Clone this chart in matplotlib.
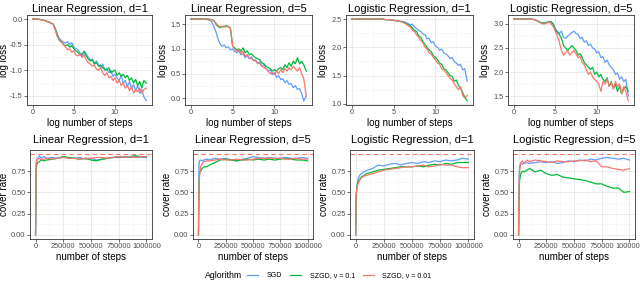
import numpy as np
import matplotlib.pyplot as plt
from matplotlib.ticker import AutoMinorLocator, FixedLocator
from matplotlib.lines import Line2D

plt.rcParams['font.family'] = ['Liberation Sans', 'DejaVu Sans']
plt.rcParams['axes.unicode_minus'] = False

# -----------------------------
# DATA
# -----------------------------
x_log = [0, 0.5, 1.0, 1.5, 2.0, 2.5, 2.75, 3.0, 3.25, 3.5, 3.75, 4.0, 4.25, 4.5, 4.75,
         5.0, 5.25, 5.5, 5.75, 6.0, 6.25, 6.5, 6.75, 7.0, 7.25, 7.5, 7.75, 8.0, 8.25,
         8.5, 8.75, 9.0, 9.25, 9.5, 9.75, 10.0, 10.25, 10.5, 10.75, 11.0, 11.25, 11.5,
         11.75, 12.0, 12.25, 12.5, 12.75, 13.0, 13.25, 13.5, 13.8]

# Linear Regression, d=1 (log loss)
lin1_sgd = [0, 0, -0.01, -0.03, -0.06, -0.1, -0.18, -0.3, -0.38, -0.42, -0.45, -0.47, -0.44,
            -0.5, -0.46, -0.55, -0.58, -0.6, -0.66, -0.72, -0.62, -0.68, -0.75, -0.8, -0.78,
            -0.86, -0.82, -0.9, -0.95, -0.88, -1.0, -0.97, -1.05, -1.0, -1.12, -1.08, -1.15,
            -1.2, -1.1, -1.25, -1.2, -1.32, -1.22, -1.35, -1.28, -1.4, -1.3, -1.45, -1.38,
            -1.52, -1.6]
lin1_szgd1 = [0, 0, -0.01, -0.03, -0.06, -0.1, -0.2, -0.32, -0.42, -0.45, -0.5, -0.52, -0.5,
              -0.55, -0.52, -0.58, -0.62, -0.65, -0.7, -0.68, -0.64, -0.72, -0.78, -0.82, -0.8,
              -0.88, -0.85, -0.92, -0.9, -0.95, -0.98, -1.0, -0.95, -1.05, -1.02, -1.0, -1.1,
              -1.05, -1.12, -1.08, -1.15, -1.1, -1.2, -1.15, -1.25, -1.18, -1.3, -1.22, -1.35,
              -1.2, -1.25]
lin1_szgd01 = [0, 0, -0.01, -0.03, -0.06, -0.1, -0.22, -0.35, -0.4, -0.44, -0.5, -0.55, -0.6,
               -0.58, -0.65, -0.62, -0.7, -0.72, -0.68, -0.75, -0.7, -0.8, -0.85, -0.88, -0.92,
               -0.9, -0.98, -1.0, -0.95, -1.05, -1.1, -1.05, -1.15, -1.12, -1.2, -1.15, -1.25,
               -1.2, -1.3, -1.25, -1.35, -1.3, -1.4, -1.32, -1.45, -1.38, -1.42, -1.35, -1.45,
               -1.38, -1.35]

# Linear Regression, d=5
lin5_sgd = [1.6, 1.6, 1.6, 1.6, 1.59, 1.55, 1.45, 1.35, 1.2, 1.1, 1.05, 1.08, 1.02, 1.04, 0.98,
            1.0, 0.95, 0.92, 0.96, 0.88, 0.9, 0.82, 0.86, 0.8, 0.84, 0.76, 0.78, 0.7, 0.74,
            0.65, 0.68, 0.6, 0.55, 0.58, 0.48, 0.52, 0.42, 0.46, 0.38, 0.4, 0.32, 0.36, 0.28,
            0.3, 0.22, 0.26, 0.18, 0.2, 0.1, -0.05, 0.05]
lin5_szgd1 = [1.6, 1.6, 1.6, 1.6, 1.6, 1.59, 1.57, 1.5, 1.45, 1.43, 1.45, 1.44, 1.47, 1.45, 1.4,
              1.05, 1.02, 0.98, 1.0, 0.95, 1.02, 0.92, 0.96, 0.88, 0.9, 0.85, 0.82, 0.8, 0.78,
              0.72, 0.7, 0.65, 0.62, 0.6, 0.55, 0.58, 0.55, 0.6, 0.62, 0.58, 0.68, 0.62, 0.72,
              0.65, 0.75, 0.7, 0.82, 0.7, 0.75, 0.68, 0.55]
lin5_szgd01 = [1.6, 1.6, 1.6, 1.6, 1.6, 1.59, 1.57, 1.52, 1.47, 1.45, 1.45, 1.46, 1.44, 1.45,
               1.42, 1.05, 1.0, 0.95, 0.98, 0.9, 0.95, 0.85, 0.88, 0.82, 0.8, 0.78, 0.75, 0.72,
               0.7, 0.65, 0.62, 0.6, 0.55, 0.5, 0.52, 0.48, 0.55, 0.5, 0.58, 0.52, 0.6, 0.55,
               0.62, 0.58, 0.65, 0.6, 0.55, 0.62, 0.5, 0.4, 0.05]

# Logistic Regression, d=1
log1_sgd = [2.5, 2.5, 2.5, 2.5, 2.5, 2.5, 2.5, 2.5, 2.5, 2.5, 2.5, 2.49, 2.49, 2.49, 2.48, 2.48,
            2.47, 2.47, 2.46, 2.46, 2.45, 2.44, 2.42, 2.4, 2.41, 2.36, 2.33, 2.3, 2.28, 2.24,
            2.22, 2.15, 2.16, 2.08, 2.1, 2.02, 2.0, 1.95, 1.97, 1.9, 1.88, 1.85, 1.8, 1.82,
            1.75, 1.72, 1.68, 1.7, 1.6, 1.62, 1.4]
log1_szgd1 = [2.5, 2.5, 2.5, 2.5, 2.5, 2.5, 2.5, 2.5, 2.5, 2.5, 2.5, 2.49, 2.49, 2.49, 2.48,
              2.48, 2.47, 2.47, 2.46, 2.45, 2.44, 2.42, 2.4, 2.38, 2.34, 2.3, 2.28, 2.2, 2.18,
              2.1, 2.05, 2.0, 1.95, 1.92, 1.85, 1.82, 1.78, 1.72, 1.7, 1.62, 1.6, 1.55, 1.5,
              1.48, 1.4, 1.42, 1.32, 1.28, 1.2, 1.12, 1.05]
log1_szgd01 = [2.5, 2.5, 2.5, 2.5, 2.5, 2.5, 2.5, 2.5, 2.5, 2.5, 2.5, 2.49, 2.49, 2.49, 2.48,
               2.48, 2.47, 2.47, 2.46, 2.45, 2.43, 2.41, 2.38, 2.36, 2.3, 2.28, 2.22, 2.18,
               2.12, 2.08, 2.0, 1.97, 1.9, 1.88, 1.82, 1.78, 1.72, 1.7, 1.62, 1.6, 1.55, 1.5,
               1.45, 1.42, 1.35, 1.3, 1.25, 1.3, 1.15, 1.1, 1.15]

# Logistic Regression, d=5
log5_sgd = [3.1, 3.1, 3.1, 3.1, 3.1, 3.09, 3.07, 3.05, 3.03, 3.02, 3.02, 3.03, 3.05, 3.04, 3.0,
            2.9, 2.85, 2.8, 2.85, 2.72, 2.7, 2.75, 2.78, 2.82, 2.85, 2.8, 2.78, 2.7, 2.72, 2.62,
            2.65, 2.55, 2.58, 2.5, 2.48, 2.4, 2.42, 2.3, 2.32, 2.2, 2.25, 2.15, 2.1, 2.05, 1.95,
            1.98, 1.85, 1.9, 1.8, 1.85, 1.5]
log5_szgd1 = [3.1, 3.1, 3.1, 3.1, 3.1, 3.09, 3.07, 3.05, 3.03, 3.02, 3.02, 3.03, 3.05, 3.04,
              3.0, 2.88, 2.82, 2.78, 2.7, 2.55, 2.5, 2.45, 2.5, 2.55, 2.5, 2.45, 2.35, 2.38,
              2.3, 2.2, 2.15, 2.1, 2.05, 2.1, 1.95, 2.0, 1.9, 1.95, 1.85, 1.8, 1.88, 1.7, 1.8,
              1.65, 1.75, 1.6, 1.7, 1.55, 1.65, 1.7, 1.6]
log5_szgd01 = [3.1, 3.1, 3.1, 3.1, 3.1, 3.09, 3.07, 3.05, 3.02, 3.0, 3.0, 3.02, 3.04, 3.0, 2.95,
               2.85, 2.75, 2.62, 2.45, 2.35, 2.4, 2.45, 2.35, 2.4, 2.45, 2.38, 2.3, 2.32, 2.2,
               2.15, 2.05, 1.95, 2.0, 1.9, 1.85, 1.8, 1.75, 1.6, 1.8, 1.75, 1.85, 1.7, 1.78,
               1.65, 1.8, 1.7, 1.75, 1.55, 1.7, 1.6, 1.4]

x_steps = [0, 5000, 10000, 20000, 35000, 50000, 75000, 100000, 150000, 200000, 250000,
           300000, 350000, 400000, 450000, 500000, 550000, 600000, 650000, 700000, 750000,
           800000, 850000, 900000, 950000, 1000000]

# cover rates
cov_lin1_sgd = [0, 0.8, 0.86, 0.9, 0.93, 0.9, 0.92, 0.9, 0.91, 0.9, 0.92, 0.9, 0.9, 0.91, 0.89,
                0.9, 0.88, 0.89, 0.9, 0.91, 0.91, 0.92, 0.91, 0.92, 0.91, 0.91]
cov_lin1_szgd1 = [0, 0.75, 0.82, 0.85, 0.86, 0.88, 0.87, 0.88, 0.89, 0.9, 0.92, 0.91, 0.9, 0.89,
                  0.9, 0.88, 0.87, 0.89, 0.9, 0.91, 0.92, 0.91, 0.92, 0.93, 0.92, 0.92]
cov_lin1_szgd01 = [0, 0.85, 0.88, 0.89, 0.9, 0.88, 0.89, 0.9, 0.89, 0.9, 0.91, 0.9, 0.9, 0.89,
                   0.9, 0.9, 0.91, 0.91, 0.9, 0.91, 0.92, 0.91, 0.92, 0.91, 0.92, 0.92]

cov_lin5_sgd = [0, 0.82, 0.87, 0.88, 0.87, 0.88, 0.89, 0.88, 0.9, 0.89, 0.9, 0.88, 0.87, 0.89,
                0.9, 0.92, 0.91, 0.9, 0.91, 0.9, 0.9, 0.91, 0.9, 0.9, 0.91, 0.9]
cov_lin5_szgd1 = [0, 0.6, 0.72, 0.75, 0.78, 0.8, 0.8, 0.82, 0.85, 0.88, 0.89, 0.88, 0.87, 0.88,
                  0.89, 0.88, 0.89, 0.88, 0.89, 0.88, 0.89, 0.9, 0.89, 0.88, 0.88, 0.87]
cov_lin5_szgd01 = [0, 0.55, 0.7, 0.8, 0.84, 0.86, 0.87, 0.87, 0.88, 0.89, 0.88, 0.88, 0.89, 0.88,
                   0.88, 0.89, 0.9, 0.9, 0.9, 0.9, 0.9, 0.89, 0.89, 0.9, 0.89, 0.89]

cov_log1_sgd = [0, 0.45, 0.55, 0.65, 0.7, 0.72, 0.74, 0.76, 0.78, 0.82, 0.81, 0.83, 0.84, 0.82,
                0.84, 0.85, 0.84, 0.86, 0.85, 0.87, 0.86, 0.88, 0.87, 0.88, 0.9, 0.89]
cov_log1_szgd1 = [0, 0.45, 0.55, 0.62, 0.65, 0.68, 0.7, 0.72, 0.74, 0.76, 0.77, 0.78, 0.79, 0.8,
                  0.8, 0.8, 0.81, 0.8, 0.82, 0.83, 0.82, 0.84, 0.83, 0.85, 0.85, 0.85]
cov_log1_szgd01 = [0, 0.48, 0.55, 0.6, 0.64, 0.67, 0.69, 0.7, 0.72, 0.74, 0.76, 0.77, 0.78, 0.79,
                   0.8, 0.8, 0.81, 0.82, 0.8, 0.81, 0.83, 0.82, 0.82, 0.8, 0.79, 0.79]

cov_log5_sgd = [0, 0.7, 0.8, 0.85, 0.83, 0.84, 0.85, 0.84, 0.85, 0.86, 0.85, 0.86, 0.84, 0.85,
                0.87, 0.86, 0.88, 0.87, 0.89, 0.88, 0.9, 0.91, 0.9, 0.89, 0.9, 0.88]
cov_log5_szgd1 = [0, 0.5, 0.65, 0.72, 0.75, 0.74, 0.76, 0.78, 0.74, 0.76, 0.72, 0.7, 0.71, 0.68,
                  0.67, 0.66, 0.65, 0.64, 0.62, 0.6, 0.6, 0.57, 0.55, 0.55, 0.5, 0.51]
cov_log5_szgd01 = [0, 0.6, 0.75, 0.85, 0.87, 0.84, 0.88, 0.86, 0.88, 0.87, 0.86, 0.85, 0.87,
                   0.86, 0.86, 0.87, 0.87, 0.88, 0.86, 0.87, 0.8, 0.8, 0.78, 0.77, 0.76, 0.78]

titles = ['Linear Regression, d=1', 'Linear Regression, d=5',
          'Logistic Regression, d=1', 'Logistic Regression, d=5']
algos = ['SGD', 'SZGD, \u03bd = 0.1', 'SZGD, \u03bd = 0.01']
colors = ['#619CFF', '#00BA38', '#F8766D']
nominal = 0.95

loss_series = [(lin1_sgd, lin1_szgd1, lin1_szgd01), (lin5_sgd, lin5_szgd1, lin5_szgd01),
               (log1_sgd, log1_szgd1, log1_szgd01), (log5_sgd, log5_szgd1, log5_szgd01)]
cov_series = [(cov_lin1_sgd, cov_lin1_szgd1, cov_lin1_szgd01),
              (cov_lin5_sgd, cov_lin5_szgd1, cov_lin5_szgd01),
              (cov_log1_sgd, cov_log1_szgd1, cov_log1_szgd01),
              (cov_log5_sgd, cov_log5_szgd1, cov_log5_szgd01)]
loss_ticks = [[0.0, -0.5, -1.0, -1.5], [0.0, 0.5, 1.0, 1.5],
              [1.0, 1.5, 2.0, 2.5], [1.5, 2.0, 2.5, 3.0]]

# -----------------------------
# LAYOUT (pixel boxes: left, right, top, bottom)
# -----------------------------
W, H = 640, 282
top_boxes = [(27, 152, 15, 105), (185, 312, 15, 105), (346, 473, 15, 105), (508, 634, 15, 105)]
bot_boxes = [(30, 152, 150, 239), (193, 313, 150, 239), (350, 474, 150, 239), (513, 635, 150, 239)]


def px_box(l, r, t, b):
    return [l / W, 1 - b / H, (r - l) / W, (b - t) / H]


def style_bw(ax):
    ax.set_facecolor('white')
    for s in ax.spines.values():
        s.set_color('#333333')
        s.set_linewidth(0.6)
    ax.grid(which='major', color='#EBEBEB', lw=0.7, zorder=0)
    ax.grid(which='minor', color='#F4F4F4', lw=0.4, zorder=0)
    ax.set_axisbelow(True)
    ax.tick_params(which='major', length=2, width=0.5, color='#333333',
                   labelsize=5.3, labelcolor='#4D4D4D', pad=1.2)
    ax.tick_params(which='minor', length=0)


def place_ylabel(ax, box, offset):
    # right edge of the rotated label sits `offset` px left of the panel
    ax.yaxis.set_label_coords((box[0] - offset) / W, 1 - (box[2] + box[3]) / 2 / H,
                              transform=fig.transFigure)


fig = plt.figure(figsize=(6.4, 2.82), dpi=100)

for i in range(4):
    ax = fig.add_axes(px_box(*top_boxes[i]))
    for ys, c in zip(loss_series[i], colors):
        ax.plot(x_log, ys, color=c, lw=0.9)
    ax.margins(0.05)
    ax.set_xticks([0, 5, 10])
    ax.set_yticks(loss_ticks[i])
    ax.set_yticklabels([f'{t:.1f}' for t in loss_ticks[i]])
    ax.xaxis.set_minor_locator(AutoMinorLocator(2))
    ax.yaxis.set_minor_locator(AutoMinorLocator(2))
    style_bw(ax)
    ax.set_title(titles[i], fontsize=8, pad=2)
    ax.set_xlabel('log number of steps', fontsize=7, labelpad=1)
    ax.set_ylabel('log loss', fontsize=7)
    place_ylabel(ax, top_boxes[i], 17.5)

for i in range(4):
    ax = fig.add_axes(px_box(*bot_boxes[i]))
    ax.axhline(nominal, color='#F8766D', lw=0.8, ls=(0, (4, 3)))
    for ys, c in zip(cov_series[i], colors):
        ax.plot(x_steps, ys, color=c, lw=0.9)
    ax.set_xlim(-50000, 1050000)
    ax.set_ylim(-0.0475, 0.9975)
    ax.set_xticks([0, 250000, 500000, 750000, 1000000])
    ax.set_xticklabels(['0', '250000', '500000', '750000', '1000000'])
    ax.set_yticks([0.0, 0.25, 0.5, 0.75])
    ax.set_yticklabels(['0.00', '0.25', '0.50', '0.75'])
    ax.xaxis.set_minor_locator(AutoMinorLocator(2))
    ax.yaxis.set_minor_locator(FixedLocator([0.125, 0.375, 0.625, 0.875]))
    style_bw(ax)
    ax.set_title(titles[i], fontsize=8, pad=5)
    ax.set_xlabel('number of steps', fontsize=7, labelpad=1)
    ax.set_ylabel('cover rate', fontsize=7)
    place_ylabel(ax, bot_boxes[i], 21)

# legend at the bottom
handles = [Line2D([], [], color=c, lw=0.9) for c in colors]
fig.text(205 / W, 1 - 275.5 / H, 'Aglorithm', fontsize=6.3, va='center', ha='left')
fig.legend(handles, algos, loc='center left', bbox_to_anchor=(247 / W, 1 - 275.5 / H),
           ncol=3, frameon=False, fontsize=5, handlelength=1.6, handletextpad=1.2,
           columnspacing=1.2, borderaxespad=0, borderpad=0)

fig.savefig('out.png', dpi=100)
